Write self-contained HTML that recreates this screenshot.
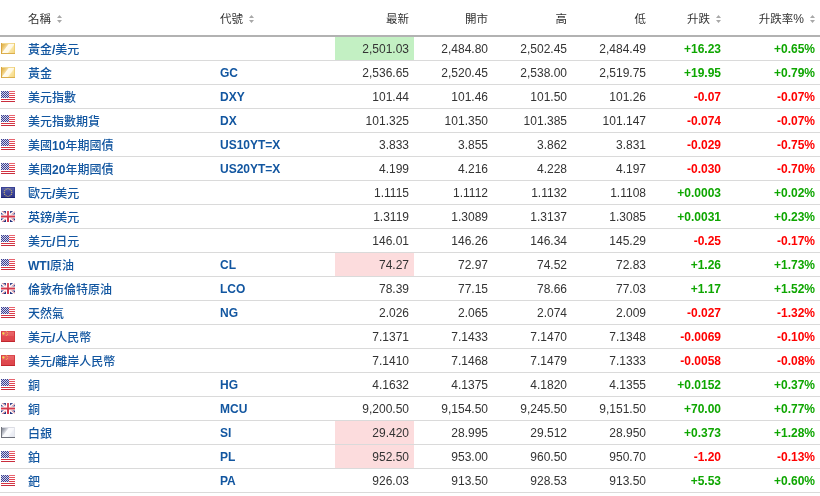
<!DOCTYPE html><html><head><meta charset="utf-8"><style>
*{margin:0;padding:0;box-sizing:border-box}
html,body{width:820px;height:496px;background:#fff;overflow:hidden}
body{font-family:"Liberation Sans","Noto Sans CJK TC",sans-serif;font-size:12px;color:#333}
table{border-collapse:collapse;table-layout:fixed;width:820px}
th{height:36px;font-size:11.5px;border-bottom:2px solid #b2b2b2;font-weight:normal;color:#333;text-align:right;padding:0 5px 0 0;white-space:nowrap;vertical-align:middle}
th.l{text-align:left}
td{height:24px;border-bottom:1px solid #dadada;text-align:right;padding:1px 5px 0 0;white-space:nowrap;vertical-align:middle}
td.f{padding:0 0 0 1px;text-align:left}
td.n{padding-top:0}
td.n{text-align:left;padding-left:8px;font-weight:bold;color:#1256a0}
td.c{text-align:left;padding-left:5px;font-weight:bold;color:#1256a0}
th.n{padding-left:8px}
th.c{padding-left:5px}
td.g{background:#c3f0c3}
td.r{background:#fcdcdd}
.up{color:#0ea600;font-weight:bold}
.dn{color:#ff0000;font-weight:bold}
.fl{display:block}
.ar{display:inline-block;vertical-align:middle;margin-left:6px;position:relative;top:0px}
.cj{font-weight:500}
</style></head><body><table>
<colgroup><col style="width:20px"><col style="width:195px"><col style="width:120px"><col style="width:79px"><col style="width:79px"><col style="width:79px"><col style="width:79px"><col style="width:75px"><col style="width:94px"></colgroup>
<tr><th class="l"></th><th class="l n">名稱<svg class="ar" width="5" height="8" viewBox="0 0 5 8"><path d="M0 3H5L2.5 0Z M0 5H5L2.5 8Z" fill="#a8a8a8"/></svg></th><th class="l c">代號<svg class="ar" width="5" height="8" viewBox="0 0 5 8"><path d="M0 3H5L2.5 0Z M0 5H5L2.5 8Z" fill="#a8a8a8"/></svg></th><th>最新</th><th>開市</th><th>高</th><th>低</th><th>升跌<svg class="ar" width="5" height="8" viewBox="0 0 5 8"><path d="M0 3H5L2.5 0Z M0 5H5L2.5 8Z" fill="#a8a8a8"/></svg></th><th>升跌率<span style="font-size:12px">%</span><svg class="ar" width="5" height="8" viewBox="0 0 5 8"><path d="M0 3H5L2.5 0Z M0 5H5L2.5 8Z" fill="#a8a8a8"/></svg></th></tr>
<tr><td class="f"><svg class="fl" width="14" height="11" viewBox="0 0 14 11"><defs><linearGradient id="gg" gradientUnits="userSpaceOnUse" x1="0" y1="0" x2="14.24" y2="10.68"><stop offset="0" stop-color="#d9a442"/><stop offset="0.2" stop-color="#e7bf62"/><stop offset="0.35" stop-color="#f3d896"/><stop offset="0.4" stop-color="#fffbf0"/><stop offset="0.62" stop-color="#fff8e4"/><stop offset="0.68" stop-color="#fae5a2"/><stop offset="1" stop-color="#f3d378"/></linearGradient></defs><rect width="14" height="11" fill="url(#gg)"/><rect x="1" y="0" width="13" height="1" fill="#f1d890"/><rect x="13" y="0" width="1" height="11" fill="#efcf72"/><rect x="0" y="10" width="14" height="1" fill="#dbae4c"/><rect x="0" y="0" width="1" height="11" fill="#d8a640"/></svg></td><td class="n"><span class="cj">黃金</span>/<span class="cj">美元</span></td><td class="c"></td><td class="g">2,501.03</td><td>2,484.80</td><td>2,502.45</td><td>2,484.49</td><td class="up">+16.23</td><td class="up">+0.65%</td></tr>
<tr><td class="f"><svg class="fl" width="14" height="11" viewBox="0 0 14 11"><defs><linearGradient id="gg" gradientUnits="userSpaceOnUse" x1="0" y1="0" x2="14.24" y2="10.68"><stop offset="0" stop-color="#d9a442"/><stop offset="0.2" stop-color="#e7bf62"/><stop offset="0.35" stop-color="#f3d896"/><stop offset="0.4" stop-color="#fffbf0"/><stop offset="0.62" stop-color="#fff8e4"/><stop offset="0.68" stop-color="#fae5a2"/><stop offset="1" stop-color="#f3d378"/></linearGradient></defs><rect width="14" height="11" fill="url(#gg)"/><rect x="1" y="0" width="13" height="1" fill="#f1d890"/><rect x="13" y="0" width="1" height="11" fill="#efcf72"/><rect x="0" y="10" width="14" height="1" fill="#dbae4c"/><rect x="0" y="0" width="1" height="11" fill="#d8a640"/></svg></td><td class="n"><span class="cj">黃金</span></td><td class="c">GC</td><td>2,536.65</td><td>2,520.45</td><td>2,538.00</td><td>2,519.75</td><td class="up">+19.95</td><td class="up">+0.79%</td></tr>
<tr><td class="f"><svg class="fl" width="14" height="11" viewBox="0 0 14 11"><rect width="14" height="11" fill="#fff"/><rect x="0" y="0" width="14" height="1" fill="#e8646f"/><rect x="0" y="2" width="14" height="1" fill="#e5525e"/><rect x="0" y="4" width="14" height="1" fill="#e14452"/><rect x="0" y="6" width="14" height="1" fill="#dc3a49"/><rect x="0" y="8" width="14" height="1" fill="#d53443"/><rect x="0" y="10" width="14" height="1" fill="#c92d3c"/><rect x="0" y="0" width="8" height="7" fill="#3d418f"/><rect x="1" y="0" width="1" height="1" fill="#cfd0ea"/><rect x="3" y="0" width="1" height="1" fill="#cfd0ea"/><rect x="5" y="0" width="1" height="1" fill="#cfd0ea"/><rect x="7" y="0" width="1" height="1" fill="#cfd0ea"/><rect x="0" y="1" width="1" height="1" fill="#cfd0ea"/><rect x="2" y="1" width="1" height="1" fill="#cfd0ea"/><rect x="4" y="1" width="1" height="1" fill="#cfd0ea"/><rect x="6" y="1" width="1" height="1" fill="#cfd0ea"/><rect x="1" y="2" width="1" height="1" fill="#cfd0ea"/><rect x="3" y="2" width="1" height="1" fill="#cfd0ea"/><rect x="5" y="2" width="1" height="1" fill="#cfd0ea"/><rect x="7" y="2" width="1" height="1" fill="#cfd0ea"/><rect x="0" y="3" width="1" height="1" fill="#cfd0ea"/><rect x="2" y="3" width="1" height="1" fill="#cfd0ea"/><rect x="4" y="3" width="1" height="1" fill="#cfd0ea"/><rect x="6" y="3" width="1" height="1" fill="#cfd0ea"/><rect x="1" y="4" width="1" height="1" fill="#cfd0ea"/><rect x="3" y="4" width="1" height="1" fill="#cfd0ea"/><rect x="5" y="4" width="1" height="1" fill="#cfd0ea"/><rect x="7" y="4" width="1" height="1" fill="#cfd0ea"/><rect x="0" y="5" width="1" height="1" fill="#cfd0ea"/><rect x="2" y="5" width="1" height="1" fill="#cfd0ea"/><rect x="4" y="5" width="1" height="1" fill="#cfd0ea"/><rect x="6" y="5" width="1" height="1" fill="#cfd0ea"/><rect x="1" y="6" width="1" height="1" fill="#cfd0ea"/><rect x="3" y="6" width="1" height="1" fill="#cfd0ea"/><rect x="5" y="6" width="1" height="1" fill="#cfd0ea"/><rect x="7" y="6" width="1" height="1" fill="#cfd0ea"/></svg></td><td class="n"><span class="cj">美元指數</span></td><td class="c">DXY</td><td>101.44</td><td>101.46</td><td>101.50</td><td>101.26</td><td class="dn">-0.07</td><td class="dn">-0.07%</td></tr>
<tr><td class="f"><svg class="fl" width="14" height="11" viewBox="0 0 14 11"><rect width="14" height="11" fill="#fff"/><rect x="0" y="0" width="14" height="1" fill="#e8646f"/><rect x="0" y="2" width="14" height="1" fill="#e5525e"/><rect x="0" y="4" width="14" height="1" fill="#e14452"/><rect x="0" y="6" width="14" height="1" fill="#dc3a49"/><rect x="0" y="8" width="14" height="1" fill="#d53443"/><rect x="0" y="10" width="14" height="1" fill="#c92d3c"/><rect x="0" y="0" width="8" height="7" fill="#3d418f"/><rect x="1" y="0" width="1" height="1" fill="#cfd0ea"/><rect x="3" y="0" width="1" height="1" fill="#cfd0ea"/><rect x="5" y="0" width="1" height="1" fill="#cfd0ea"/><rect x="7" y="0" width="1" height="1" fill="#cfd0ea"/><rect x="0" y="1" width="1" height="1" fill="#cfd0ea"/><rect x="2" y="1" width="1" height="1" fill="#cfd0ea"/><rect x="4" y="1" width="1" height="1" fill="#cfd0ea"/><rect x="6" y="1" width="1" height="1" fill="#cfd0ea"/><rect x="1" y="2" width="1" height="1" fill="#cfd0ea"/><rect x="3" y="2" width="1" height="1" fill="#cfd0ea"/><rect x="5" y="2" width="1" height="1" fill="#cfd0ea"/><rect x="7" y="2" width="1" height="1" fill="#cfd0ea"/><rect x="0" y="3" width="1" height="1" fill="#cfd0ea"/><rect x="2" y="3" width="1" height="1" fill="#cfd0ea"/><rect x="4" y="3" width="1" height="1" fill="#cfd0ea"/><rect x="6" y="3" width="1" height="1" fill="#cfd0ea"/><rect x="1" y="4" width="1" height="1" fill="#cfd0ea"/><rect x="3" y="4" width="1" height="1" fill="#cfd0ea"/><rect x="5" y="4" width="1" height="1" fill="#cfd0ea"/><rect x="7" y="4" width="1" height="1" fill="#cfd0ea"/><rect x="0" y="5" width="1" height="1" fill="#cfd0ea"/><rect x="2" y="5" width="1" height="1" fill="#cfd0ea"/><rect x="4" y="5" width="1" height="1" fill="#cfd0ea"/><rect x="6" y="5" width="1" height="1" fill="#cfd0ea"/><rect x="1" y="6" width="1" height="1" fill="#cfd0ea"/><rect x="3" y="6" width="1" height="1" fill="#cfd0ea"/><rect x="5" y="6" width="1" height="1" fill="#cfd0ea"/><rect x="7" y="6" width="1" height="1" fill="#cfd0ea"/></svg></td><td class="n"><span class="cj">美元指數期貨</span></td><td class="c">DX</td><td>101.325</td><td>101.350</td><td>101.385</td><td>101.147</td><td class="dn">-0.074</td><td class="dn">-0.07%</td></tr>
<tr><td class="f"><svg class="fl" width="14" height="11" viewBox="0 0 14 11"><rect width="14" height="11" fill="#fff"/><rect x="0" y="0" width="14" height="1" fill="#e8646f"/><rect x="0" y="2" width="14" height="1" fill="#e5525e"/><rect x="0" y="4" width="14" height="1" fill="#e14452"/><rect x="0" y="6" width="14" height="1" fill="#dc3a49"/><rect x="0" y="8" width="14" height="1" fill="#d53443"/><rect x="0" y="10" width="14" height="1" fill="#c92d3c"/><rect x="0" y="0" width="8" height="7" fill="#3d418f"/><rect x="1" y="0" width="1" height="1" fill="#cfd0ea"/><rect x="3" y="0" width="1" height="1" fill="#cfd0ea"/><rect x="5" y="0" width="1" height="1" fill="#cfd0ea"/><rect x="7" y="0" width="1" height="1" fill="#cfd0ea"/><rect x="0" y="1" width="1" height="1" fill="#cfd0ea"/><rect x="2" y="1" width="1" height="1" fill="#cfd0ea"/><rect x="4" y="1" width="1" height="1" fill="#cfd0ea"/><rect x="6" y="1" width="1" height="1" fill="#cfd0ea"/><rect x="1" y="2" width="1" height="1" fill="#cfd0ea"/><rect x="3" y="2" width="1" height="1" fill="#cfd0ea"/><rect x="5" y="2" width="1" height="1" fill="#cfd0ea"/><rect x="7" y="2" width="1" height="1" fill="#cfd0ea"/><rect x="0" y="3" width="1" height="1" fill="#cfd0ea"/><rect x="2" y="3" width="1" height="1" fill="#cfd0ea"/><rect x="4" y="3" width="1" height="1" fill="#cfd0ea"/><rect x="6" y="3" width="1" height="1" fill="#cfd0ea"/><rect x="1" y="4" width="1" height="1" fill="#cfd0ea"/><rect x="3" y="4" width="1" height="1" fill="#cfd0ea"/><rect x="5" y="4" width="1" height="1" fill="#cfd0ea"/><rect x="7" y="4" width="1" height="1" fill="#cfd0ea"/><rect x="0" y="5" width="1" height="1" fill="#cfd0ea"/><rect x="2" y="5" width="1" height="1" fill="#cfd0ea"/><rect x="4" y="5" width="1" height="1" fill="#cfd0ea"/><rect x="6" y="5" width="1" height="1" fill="#cfd0ea"/><rect x="1" y="6" width="1" height="1" fill="#cfd0ea"/><rect x="3" y="6" width="1" height="1" fill="#cfd0ea"/><rect x="5" y="6" width="1" height="1" fill="#cfd0ea"/><rect x="7" y="6" width="1" height="1" fill="#cfd0ea"/></svg></td><td class="n"><span class="cj">美國</span>10<span class="cj">年期國債</span></td><td class="c">US10YT=X</td><td>3.833</td><td>3.855</td><td>3.862</td><td>3.831</td><td class="dn">-0.029</td><td class="dn">-0.75%</td></tr>
<tr><td class="f"><svg class="fl" width="14" height="11" viewBox="0 0 14 11"><rect width="14" height="11" fill="#fff"/><rect x="0" y="0" width="14" height="1" fill="#e8646f"/><rect x="0" y="2" width="14" height="1" fill="#e5525e"/><rect x="0" y="4" width="14" height="1" fill="#e14452"/><rect x="0" y="6" width="14" height="1" fill="#dc3a49"/><rect x="0" y="8" width="14" height="1" fill="#d53443"/><rect x="0" y="10" width="14" height="1" fill="#c92d3c"/><rect x="0" y="0" width="8" height="7" fill="#3d418f"/><rect x="1" y="0" width="1" height="1" fill="#cfd0ea"/><rect x="3" y="0" width="1" height="1" fill="#cfd0ea"/><rect x="5" y="0" width="1" height="1" fill="#cfd0ea"/><rect x="7" y="0" width="1" height="1" fill="#cfd0ea"/><rect x="0" y="1" width="1" height="1" fill="#cfd0ea"/><rect x="2" y="1" width="1" height="1" fill="#cfd0ea"/><rect x="4" y="1" width="1" height="1" fill="#cfd0ea"/><rect x="6" y="1" width="1" height="1" fill="#cfd0ea"/><rect x="1" y="2" width="1" height="1" fill="#cfd0ea"/><rect x="3" y="2" width="1" height="1" fill="#cfd0ea"/><rect x="5" y="2" width="1" height="1" fill="#cfd0ea"/><rect x="7" y="2" width="1" height="1" fill="#cfd0ea"/><rect x="0" y="3" width="1" height="1" fill="#cfd0ea"/><rect x="2" y="3" width="1" height="1" fill="#cfd0ea"/><rect x="4" y="3" width="1" height="1" fill="#cfd0ea"/><rect x="6" y="3" width="1" height="1" fill="#cfd0ea"/><rect x="1" y="4" width="1" height="1" fill="#cfd0ea"/><rect x="3" y="4" width="1" height="1" fill="#cfd0ea"/><rect x="5" y="4" width="1" height="1" fill="#cfd0ea"/><rect x="7" y="4" width="1" height="1" fill="#cfd0ea"/><rect x="0" y="5" width="1" height="1" fill="#cfd0ea"/><rect x="2" y="5" width="1" height="1" fill="#cfd0ea"/><rect x="4" y="5" width="1" height="1" fill="#cfd0ea"/><rect x="6" y="5" width="1" height="1" fill="#cfd0ea"/><rect x="1" y="6" width="1" height="1" fill="#cfd0ea"/><rect x="3" y="6" width="1" height="1" fill="#cfd0ea"/><rect x="5" y="6" width="1" height="1" fill="#cfd0ea"/><rect x="7" y="6" width="1" height="1" fill="#cfd0ea"/></svg></td><td class="n"><span class="cj">美國</span>20<span class="cj">年期國債</span></td><td class="c">US20YT=X</td><td>4.199</td><td>4.216</td><td>4.228</td><td>4.197</td><td class="dn">-0.030</td><td class="dn">-0.70%</td></tr>
<tr><td class="f"><svg class="fl" width="14" height="11" viewBox="0 0 14 11"><defs><linearGradient id="ge" x1="0" y1="0" x2="0" y2="1"><stop offset="0" stop-color="#6068ad"/><stop offset="0.5" stop-color="#3d459a"/><stop offset="1" stop-color="#2a3188"/></linearGradient></defs><rect width="14" height="11" fill="url(#ge)"/><rect x="0" y="0" width="1" height="11" fill="#343c8e"/><rect x="13" y="0" width="1" height="11" fill="#343c8e"/><rect x="0" y="0" width="14" height="1" fill="#3a4294"/><rect x="0" y="10" width="14" height="1" fill="#1c2272"/><circle cx="10.80" cy="5.50" r="0.65" fill="#c9b66e"/><circle cx="10.29" cy="7.40" r="0.65" fill="#c9b66e"/><circle cx="8.90" cy="8.79" r="0.65" fill="#c9b66e"/><circle cx="7.00" cy="9.30" r="0.65" fill="#c9b66e"/><circle cx="5.10" cy="8.79" r="0.65" fill="#c9b66e"/><circle cx="3.71" cy="7.40" r="0.65" fill="#c9b66e"/><circle cx="3.20" cy="5.50" r="0.65" fill="#c9b66e"/><circle cx="3.71" cy="3.60" r="0.65" fill="#c9b66e"/><circle cx="5.10" cy="2.21" r="0.65" fill="#c9b66e"/><circle cx="7.00" cy="1.70" r="0.65" fill="#c9b66e"/><circle cx="8.90" cy="2.21" r="0.65" fill="#c9b66e"/><circle cx="10.29" cy="3.60" r="0.65" fill="#c9b66e"/></svg></td><td class="n"><span class="cj">歐元</span>/<span class="cj">美元</span></td><td class="c"></td><td>1.1115</td><td>1.1112</td><td>1.1132</td><td>1.1108</td><td class="up">+0.0003</td><td class="up">+0.02%</td></tr>
<tr><td class="f"><svg class="fl" width="14" height="11" viewBox="0 0 14 11"><rect width="14" height="11" fill="#24337f"/><path d="M0 0L14 11M14 0L0 11" stroke="#fff" stroke-width="2.2"/><path d="M0 0L7 5.5M14 11L7 5.5" stroke="#d8505f" stroke-width="0.7" transform="translate(0.4,-0.4)"/><path d="M14 0L7 5.5M0 11L7 5.5" stroke="#d8505f" stroke-width="0.7" transform="translate(0.4,0.4)"/><rect x="5" y="0" width="4" height="11" fill="#fff"/><rect x="0" y="3.5" width="14" height="4" fill="#fff"/><rect x="6" y="0" width="2" height="11" fill="#d5384b"/><rect x="0" y="4.5" width="14" height="2" fill="#d5384b"/><rect x="0" y="0" width="14" height="5" fill="#fff" opacity="0.12"/></svg></td><td class="n"><span class="cj">英鎊</span>/<span class="cj">美元</span></td><td class="c"></td><td>1.3119</td><td>1.3089</td><td>1.3137</td><td>1.3085</td><td class="up">+0.0031</td><td class="up">+0.23%</td></tr>
<tr><td class="f"><svg class="fl" width="14" height="11" viewBox="0 0 14 11"><rect width="14" height="11" fill="#fff"/><rect x="0" y="0" width="14" height="1" fill="#e8646f"/><rect x="0" y="2" width="14" height="1" fill="#e5525e"/><rect x="0" y="4" width="14" height="1" fill="#e14452"/><rect x="0" y="6" width="14" height="1" fill="#dc3a49"/><rect x="0" y="8" width="14" height="1" fill="#d53443"/><rect x="0" y="10" width="14" height="1" fill="#c92d3c"/><rect x="0" y="0" width="8" height="7" fill="#3d418f"/><rect x="1" y="0" width="1" height="1" fill="#cfd0ea"/><rect x="3" y="0" width="1" height="1" fill="#cfd0ea"/><rect x="5" y="0" width="1" height="1" fill="#cfd0ea"/><rect x="7" y="0" width="1" height="1" fill="#cfd0ea"/><rect x="0" y="1" width="1" height="1" fill="#cfd0ea"/><rect x="2" y="1" width="1" height="1" fill="#cfd0ea"/><rect x="4" y="1" width="1" height="1" fill="#cfd0ea"/><rect x="6" y="1" width="1" height="1" fill="#cfd0ea"/><rect x="1" y="2" width="1" height="1" fill="#cfd0ea"/><rect x="3" y="2" width="1" height="1" fill="#cfd0ea"/><rect x="5" y="2" width="1" height="1" fill="#cfd0ea"/><rect x="7" y="2" width="1" height="1" fill="#cfd0ea"/><rect x="0" y="3" width="1" height="1" fill="#cfd0ea"/><rect x="2" y="3" width="1" height="1" fill="#cfd0ea"/><rect x="4" y="3" width="1" height="1" fill="#cfd0ea"/><rect x="6" y="3" width="1" height="1" fill="#cfd0ea"/><rect x="1" y="4" width="1" height="1" fill="#cfd0ea"/><rect x="3" y="4" width="1" height="1" fill="#cfd0ea"/><rect x="5" y="4" width="1" height="1" fill="#cfd0ea"/><rect x="7" y="4" width="1" height="1" fill="#cfd0ea"/><rect x="0" y="5" width="1" height="1" fill="#cfd0ea"/><rect x="2" y="5" width="1" height="1" fill="#cfd0ea"/><rect x="4" y="5" width="1" height="1" fill="#cfd0ea"/><rect x="6" y="5" width="1" height="1" fill="#cfd0ea"/><rect x="1" y="6" width="1" height="1" fill="#cfd0ea"/><rect x="3" y="6" width="1" height="1" fill="#cfd0ea"/><rect x="5" y="6" width="1" height="1" fill="#cfd0ea"/><rect x="7" y="6" width="1" height="1" fill="#cfd0ea"/></svg></td><td class="n"><span class="cj">美元</span>/<span class="cj">日元</span></td><td class="c"></td><td>146.01</td><td>146.26</td><td>146.34</td><td>145.29</td><td class="dn">-0.25</td><td class="dn">-0.17%</td></tr>
<tr><td class="f"><svg class="fl" width="14" height="11" viewBox="0 0 14 11"><rect width="14" height="11" fill="#fff"/><rect x="0" y="0" width="14" height="1" fill="#e8646f"/><rect x="0" y="2" width="14" height="1" fill="#e5525e"/><rect x="0" y="4" width="14" height="1" fill="#e14452"/><rect x="0" y="6" width="14" height="1" fill="#dc3a49"/><rect x="0" y="8" width="14" height="1" fill="#d53443"/><rect x="0" y="10" width="14" height="1" fill="#c92d3c"/><rect x="0" y="0" width="8" height="7" fill="#3d418f"/><rect x="1" y="0" width="1" height="1" fill="#cfd0ea"/><rect x="3" y="0" width="1" height="1" fill="#cfd0ea"/><rect x="5" y="0" width="1" height="1" fill="#cfd0ea"/><rect x="7" y="0" width="1" height="1" fill="#cfd0ea"/><rect x="0" y="1" width="1" height="1" fill="#cfd0ea"/><rect x="2" y="1" width="1" height="1" fill="#cfd0ea"/><rect x="4" y="1" width="1" height="1" fill="#cfd0ea"/><rect x="6" y="1" width="1" height="1" fill="#cfd0ea"/><rect x="1" y="2" width="1" height="1" fill="#cfd0ea"/><rect x="3" y="2" width="1" height="1" fill="#cfd0ea"/><rect x="5" y="2" width="1" height="1" fill="#cfd0ea"/><rect x="7" y="2" width="1" height="1" fill="#cfd0ea"/><rect x="0" y="3" width="1" height="1" fill="#cfd0ea"/><rect x="2" y="3" width="1" height="1" fill="#cfd0ea"/><rect x="4" y="3" width="1" height="1" fill="#cfd0ea"/><rect x="6" y="3" width="1" height="1" fill="#cfd0ea"/><rect x="1" y="4" width="1" height="1" fill="#cfd0ea"/><rect x="3" y="4" width="1" height="1" fill="#cfd0ea"/><rect x="5" y="4" width="1" height="1" fill="#cfd0ea"/><rect x="7" y="4" width="1" height="1" fill="#cfd0ea"/><rect x="0" y="5" width="1" height="1" fill="#cfd0ea"/><rect x="2" y="5" width="1" height="1" fill="#cfd0ea"/><rect x="4" y="5" width="1" height="1" fill="#cfd0ea"/><rect x="6" y="5" width="1" height="1" fill="#cfd0ea"/><rect x="1" y="6" width="1" height="1" fill="#cfd0ea"/><rect x="3" y="6" width="1" height="1" fill="#cfd0ea"/><rect x="5" y="6" width="1" height="1" fill="#cfd0ea"/><rect x="7" y="6" width="1" height="1" fill="#cfd0ea"/></svg></td><td class="n">WTI<span class="cj">原油</span></td><td class="c">CL</td><td class="r">74.27</td><td>72.97</td><td>74.52</td><td>72.83</td><td class="up">+1.26</td><td class="up">+1.73%</td></tr>
<tr><td class="f"><svg class="fl" width="14" height="11" viewBox="0 0 14 11"><rect width="14" height="11" fill="#24337f"/><path d="M0 0L14 11M14 0L0 11" stroke="#fff" stroke-width="2.2"/><path d="M0 0L7 5.5M14 11L7 5.5" stroke="#d8505f" stroke-width="0.7" transform="translate(0.4,-0.4)"/><path d="M14 0L7 5.5M0 11L7 5.5" stroke="#d8505f" stroke-width="0.7" transform="translate(0.4,0.4)"/><rect x="5" y="0" width="4" height="11" fill="#fff"/><rect x="0" y="3.5" width="14" height="4" fill="#fff"/><rect x="6" y="0" width="2" height="11" fill="#d5384b"/><rect x="0" y="4.5" width="14" height="2" fill="#d5384b"/><rect x="0" y="0" width="14" height="5" fill="#fff" opacity="0.12"/></svg></td><td class="n"><span class="cj">倫敦布倫特原油</span></td><td class="c">LCO</td><td>78.39</td><td>77.15</td><td>78.66</td><td>77.03</td><td class="up">+1.17</td><td class="up">+1.52%</td></tr>
<tr><td class="f"><svg class="fl" width="14" height="11" viewBox="0 0 14 11"><rect width="14" height="11" fill="#fff"/><rect x="0" y="0" width="14" height="1" fill="#e8646f"/><rect x="0" y="2" width="14" height="1" fill="#e5525e"/><rect x="0" y="4" width="14" height="1" fill="#e14452"/><rect x="0" y="6" width="14" height="1" fill="#dc3a49"/><rect x="0" y="8" width="14" height="1" fill="#d53443"/><rect x="0" y="10" width="14" height="1" fill="#c92d3c"/><rect x="0" y="0" width="8" height="7" fill="#3d418f"/><rect x="1" y="0" width="1" height="1" fill="#cfd0ea"/><rect x="3" y="0" width="1" height="1" fill="#cfd0ea"/><rect x="5" y="0" width="1" height="1" fill="#cfd0ea"/><rect x="7" y="0" width="1" height="1" fill="#cfd0ea"/><rect x="0" y="1" width="1" height="1" fill="#cfd0ea"/><rect x="2" y="1" width="1" height="1" fill="#cfd0ea"/><rect x="4" y="1" width="1" height="1" fill="#cfd0ea"/><rect x="6" y="1" width="1" height="1" fill="#cfd0ea"/><rect x="1" y="2" width="1" height="1" fill="#cfd0ea"/><rect x="3" y="2" width="1" height="1" fill="#cfd0ea"/><rect x="5" y="2" width="1" height="1" fill="#cfd0ea"/><rect x="7" y="2" width="1" height="1" fill="#cfd0ea"/><rect x="0" y="3" width="1" height="1" fill="#cfd0ea"/><rect x="2" y="3" width="1" height="1" fill="#cfd0ea"/><rect x="4" y="3" width="1" height="1" fill="#cfd0ea"/><rect x="6" y="3" width="1" height="1" fill="#cfd0ea"/><rect x="1" y="4" width="1" height="1" fill="#cfd0ea"/><rect x="3" y="4" width="1" height="1" fill="#cfd0ea"/><rect x="5" y="4" width="1" height="1" fill="#cfd0ea"/><rect x="7" y="4" width="1" height="1" fill="#cfd0ea"/><rect x="0" y="5" width="1" height="1" fill="#cfd0ea"/><rect x="2" y="5" width="1" height="1" fill="#cfd0ea"/><rect x="4" y="5" width="1" height="1" fill="#cfd0ea"/><rect x="6" y="5" width="1" height="1" fill="#cfd0ea"/><rect x="1" y="6" width="1" height="1" fill="#cfd0ea"/><rect x="3" y="6" width="1" height="1" fill="#cfd0ea"/><rect x="5" y="6" width="1" height="1" fill="#cfd0ea"/><rect x="7" y="6" width="1" height="1" fill="#cfd0ea"/></svg></td><td class="n"><span class="cj">天然氣</span></td><td class="c">NG</td><td>2.026</td><td>2.065</td><td>2.074</td><td>2.009</td><td class="dn">-0.027</td><td class="dn">-1.32%</td></tr>
<tr><td class="f"><svg class="fl" width="14" height="11" viewBox="0 0 14 11"><defs><linearGradient id="gc" x1="0" y1="0" x2="0" y2="1"><stop offset="0" stop-color="#e96a6d"/><stop offset="0.45" stop-color="#e65a5e"/><stop offset="0.5" stop-color="#e04a50"/><stop offset="1" stop-color="#dc444a"/></linearGradient></defs><rect width="14" height="11" fill="url(#gc)"/><rect x="0" y="0" width="1" height="11" fill="#d23b41"/><rect x="13" y="0" width="1" height="11" fill="#d23b41"/><rect x="0" y="0" width="14" height="1" fill="#dc4a50"/><rect x="0" y="10" width="14" height="1" fill="#c0262e"/><circle cx="2.4" cy="2.5" r="1.15" fill="#f6dc4c"/><circle cx="5.3" cy="0.6" r="0.5" fill="#f3c64a"/><circle cx="6.4" cy="1.6" r="0.5" fill="#f3c64a"/><circle cx="6.4" cy="3.4" r="0.5" fill="#f3c64a"/><circle cx="5.3" cy="4.4" r="0.5" fill="#f3c64a"/></svg></td><td class="n"><span class="cj">美元</span>/<span class="cj">人民幣</span></td><td class="c"></td><td>7.1371</td><td>7.1433</td><td>7.1470</td><td>7.1348</td><td class="dn">-0.0069</td><td class="dn">-0.10%</td></tr>
<tr><td class="f"><svg class="fl" width="14" height="11" viewBox="0 0 14 11"><defs><linearGradient id="gc" x1="0" y1="0" x2="0" y2="1"><stop offset="0" stop-color="#e96a6d"/><stop offset="0.45" stop-color="#e65a5e"/><stop offset="0.5" stop-color="#e04a50"/><stop offset="1" stop-color="#dc444a"/></linearGradient></defs><rect width="14" height="11" fill="url(#gc)"/><rect x="0" y="0" width="1" height="11" fill="#d23b41"/><rect x="13" y="0" width="1" height="11" fill="#d23b41"/><rect x="0" y="0" width="14" height="1" fill="#dc4a50"/><rect x="0" y="10" width="14" height="1" fill="#c0262e"/><circle cx="2.4" cy="2.5" r="1.15" fill="#f6dc4c"/><circle cx="5.3" cy="0.6" r="0.5" fill="#f3c64a"/><circle cx="6.4" cy="1.6" r="0.5" fill="#f3c64a"/><circle cx="6.4" cy="3.4" r="0.5" fill="#f3c64a"/><circle cx="5.3" cy="4.4" r="0.5" fill="#f3c64a"/></svg></td><td class="n"><span class="cj">美元</span>/<span class="cj">離岸人民幣</span></td><td class="c"></td><td>7.1410</td><td>7.1468</td><td>7.1479</td><td>7.1333</td><td class="dn">-0.0058</td><td class="dn">-0.08%</td></tr>
<tr><td class="f"><svg class="fl" width="14" height="11" viewBox="0 0 14 11"><rect width="14" height="11" fill="#fff"/><rect x="0" y="0" width="14" height="1" fill="#e8646f"/><rect x="0" y="2" width="14" height="1" fill="#e5525e"/><rect x="0" y="4" width="14" height="1" fill="#e14452"/><rect x="0" y="6" width="14" height="1" fill="#dc3a49"/><rect x="0" y="8" width="14" height="1" fill="#d53443"/><rect x="0" y="10" width="14" height="1" fill="#c92d3c"/><rect x="0" y="0" width="8" height="7" fill="#3d418f"/><rect x="1" y="0" width="1" height="1" fill="#cfd0ea"/><rect x="3" y="0" width="1" height="1" fill="#cfd0ea"/><rect x="5" y="0" width="1" height="1" fill="#cfd0ea"/><rect x="7" y="0" width="1" height="1" fill="#cfd0ea"/><rect x="0" y="1" width="1" height="1" fill="#cfd0ea"/><rect x="2" y="1" width="1" height="1" fill="#cfd0ea"/><rect x="4" y="1" width="1" height="1" fill="#cfd0ea"/><rect x="6" y="1" width="1" height="1" fill="#cfd0ea"/><rect x="1" y="2" width="1" height="1" fill="#cfd0ea"/><rect x="3" y="2" width="1" height="1" fill="#cfd0ea"/><rect x="5" y="2" width="1" height="1" fill="#cfd0ea"/><rect x="7" y="2" width="1" height="1" fill="#cfd0ea"/><rect x="0" y="3" width="1" height="1" fill="#cfd0ea"/><rect x="2" y="3" width="1" height="1" fill="#cfd0ea"/><rect x="4" y="3" width="1" height="1" fill="#cfd0ea"/><rect x="6" y="3" width="1" height="1" fill="#cfd0ea"/><rect x="1" y="4" width="1" height="1" fill="#cfd0ea"/><rect x="3" y="4" width="1" height="1" fill="#cfd0ea"/><rect x="5" y="4" width="1" height="1" fill="#cfd0ea"/><rect x="7" y="4" width="1" height="1" fill="#cfd0ea"/><rect x="0" y="5" width="1" height="1" fill="#cfd0ea"/><rect x="2" y="5" width="1" height="1" fill="#cfd0ea"/><rect x="4" y="5" width="1" height="1" fill="#cfd0ea"/><rect x="6" y="5" width="1" height="1" fill="#cfd0ea"/><rect x="1" y="6" width="1" height="1" fill="#cfd0ea"/><rect x="3" y="6" width="1" height="1" fill="#cfd0ea"/><rect x="5" y="6" width="1" height="1" fill="#cfd0ea"/><rect x="7" y="6" width="1" height="1" fill="#cfd0ea"/></svg></td><td class="n"><span class="cj">銅</span></td><td class="c">HG</td><td>4.1632</td><td>4.1375</td><td>4.1820</td><td>4.1355</td><td class="up">+0.0152</td><td class="up">+0.37%</td></tr>
<tr><td class="f"><svg class="fl" width="14" height="11" viewBox="0 0 14 11"><rect width="14" height="11" fill="#24337f"/><path d="M0 0L14 11M14 0L0 11" stroke="#fff" stroke-width="2.2"/><path d="M0 0L7 5.5M14 11L7 5.5" stroke="#d8505f" stroke-width="0.7" transform="translate(0.4,-0.4)"/><path d="M14 0L7 5.5M0 11L7 5.5" stroke="#d8505f" stroke-width="0.7" transform="translate(0.4,0.4)"/><rect x="5" y="0" width="4" height="11" fill="#fff"/><rect x="0" y="3.5" width="14" height="4" fill="#fff"/><rect x="6" y="0" width="2" height="11" fill="#d5384b"/><rect x="0" y="4.5" width="14" height="2" fill="#d5384b"/><rect x="0" y="0" width="14" height="5" fill="#fff" opacity="0.12"/></svg></td><td class="n"><span class="cj">銅</span></td><td class="c">MCU</td><td>9,200.50</td><td>9,154.50</td><td>9,245.50</td><td>9,151.50</td><td class="up">+70.00</td><td class="up">+0.77%</td></tr>
<tr><td class="f"><svg class="fl" width="14" height="11" viewBox="0 0 14 11"><defs><linearGradient id="gs" gradientUnits="userSpaceOnUse" x1="0" y1="0" x2="14.24" y2="10.68"><stop offset="0" stop-color="#6f737e"/><stop offset="0.2" stop-color="#a2a6b0"/><stop offset="0.35" stop-color="#d6d8df"/><stop offset="0.4" stop-color="#fbfbfd"/><stop offset="0.62" stop-color="#f8f9fc"/><stop offset="0.68" stop-color="#eef0f6"/><stop offset="1" stop-color="#e2e5ee"/></linearGradient></defs><rect width="14" height="11" fill="url(#gs)"/><rect x="1" y="0" width="13" height="1" fill="#dcdde4"/><rect x="13" y="0" width="1" height="11" fill="#e2e4eb"/><rect x="0" y="10" width="14" height="1" fill="#6c6f78"/><rect x="0" y="0" width="1" height="11" fill="#70737c"/></svg></td><td class="n"><span class="cj">白銀</span></td><td class="c">SI</td><td class="r">29.420</td><td>28.995</td><td>29.512</td><td>28.950</td><td class="up">+0.373</td><td class="up">+1.28%</td></tr>
<tr><td class="f"><svg class="fl" width="14" height="11" viewBox="0 0 14 11"><rect width="14" height="11" fill="#fff"/><rect x="0" y="0" width="14" height="1" fill="#e8646f"/><rect x="0" y="2" width="14" height="1" fill="#e5525e"/><rect x="0" y="4" width="14" height="1" fill="#e14452"/><rect x="0" y="6" width="14" height="1" fill="#dc3a49"/><rect x="0" y="8" width="14" height="1" fill="#d53443"/><rect x="0" y="10" width="14" height="1" fill="#c92d3c"/><rect x="0" y="0" width="8" height="7" fill="#3d418f"/><rect x="1" y="0" width="1" height="1" fill="#cfd0ea"/><rect x="3" y="0" width="1" height="1" fill="#cfd0ea"/><rect x="5" y="0" width="1" height="1" fill="#cfd0ea"/><rect x="7" y="0" width="1" height="1" fill="#cfd0ea"/><rect x="0" y="1" width="1" height="1" fill="#cfd0ea"/><rect x="2" y="1" width="1" height="1" fill="#cfd0ea"/><rect x="4" y="1" width="1" height="1" fill="#cfd0ea"/><rect x="6" y="1" width="1" height="1" fill="#cfd0ea"/><rect x="1" y="2" width="1" height="1" fill="#cfd0ea"/><rect x="3" y="2" width="1" height="1" fill="#cfd0ea"/><rect x="5" y="2" width="1" height="1" fill="#cfd0ea"/><rect x="7" y="2" width="1" height="1" fill="#cfd0ea"/><rect x="0" y="3" width="1" height="1" fill="#cfd0ea"/><rect x="2" y="3" width="1" height="1" fill="#cfd0ea"/><rect x="4" y="3" width="1" height="1" fill="#cfd0ea"/><rect x="6" y="3" width="1" height="1" fill="#cfd0ea"/><rect x="1" y="4" width="1" height="1" fill="#cfd0ea"/><rect x="3" y="4" width="1" height="1" fill="#cfd0ea"/><rect x="5" y="4" width="1" height="1" fill="#cfd0ea"/><rect x="7" y="4" width="1" height="1" fill="#cfd0ea"/><rect x="0" y="5" width="1" height="1" fill="#cfd0ea"/><rect x="2" y="5" width="1" height="1" fill="#cfd0ea"/><rect x="4" y="5" width="1" height="1" fill="#cfd0ea"/><rect x="6" y="5" width="1" height="1" fill="#cfd0ea"/><rect x="1" y="6" width="1" height="1" fill="#cfd0ea"/><rect x="3" y="6" width="1" height="1" fill="#cfd0ea"/><rect x="5" y="6" width="1" height="1" fill="#cfd0ea"/><rect x="7" y="6" width="1" height="1" fill="#cfd0ea"/></svg></td><td class="n"><span class="cj">鉑</span></td><td class="c">PL</td><td class="r">952.50</td><td>953.00</td><td>960.50</td><td>950.70</td><td class="dn">-1.20</td><td class="dn">-0.13%</td></tr>
<tr><td class="f"><svg class="fl" width="14" height="11" viewBox="0 0 14 11"><rect width="14" height="11" fill="#fff"/><rect x="0" y="0" width="14" height="1" fill="#e8646f"/><rect x="0" y="2" width="14" height="1" fill="#e5525e"/><rect x="0" y="4" width="14" height="1" fill="#e14452"/><rect x="0" y="6" width="14" height="1" fill="#dc3a49"/><rect x="0" y="8" width="14" height="1" fill="#d53443"/><rect x="0" y="10" width="14" height="1" fill="#c92d3c"/><rect x="0" y="0" width="8" height="7" fill="#3d418f"/><rect x="1" y="0" width="1" height="1" fill="#cfd0ea"/><rect x="3" y="0" width="1" height="1" fill="#cfd0ea"/><rect x="5" y="0" width="1" height="1" fill="#cfd0ea"/><rect x="7" y="0" width="1" height="1" fill="#cfd0ea"/><rect x="0" y="1" width="1" height="1" fill="#cfd0ea"/><rect x="2" y="1" width="1" height="1" fill="#cfd0ea"/><rect x="4" y="1" width="1" height="1" fill="#cfd0ea"/><rect x="6" y="1" width="1" height="1" fill="#cfd0ea"/><rect x="1" y="2" width="1" height="1" fill="#cfd0ea"/><rect x="3" y="2" width="1" height="1" fill="#cfd0ea"/><rect x="5" y="2" width="1" height="1" fill="#cfd0ea"/><rect x="7" y="2" width="1" height="1" fill="#cfd0ea"/><rect x="0" y="3" width="1" height="1" fill="#cfd0ea"/><rect x="2" y="3" width="1" height="1" fill="#cfd0ea"/><rect x="4" y="3" width="1" height="1" fill="#cfd0ea"/><rect x="6" y="3" width="1" height="1" fill="#cfd0ea"/><rect x="1" y="4" width="1" height="1" fill="#cfd0ea"/><rect x="3" y="4" width="1" height="1" fill="#cfd0ea"/><rect x="5" y="4" width="1" height="1" fill="#cfd0ea"/><rect x="7" y="4" width="1" height="1" fill="#cfd0ea"/><rect x="0" y="5" width="1" height="1" fill="#cfd0ea"/><rect x="2" y="5" width="1" height="1" fill="#cfd0ea"/><rect x="4" y="5" width="1" height="1" fill="#cfd0ea"/><rect x="6" y="5" width="1" height="1" fill="#cfd0ea"/><rect x="1" y="6" width="1" height="1" fill="#cfd0ea"/><rect x="3" y="6" width="1" height="1" fill="#cfd0ea"/><rect x="5" y="6" width="1" height="1" fill="#cfd0ea"/><rect x="7" y="6" width="1" height="1" fill="#cfd0ea"/></svg></td><td class="n"><span class="cj">鈀</span></td><td class="c">PA</td><td>926.03</td><td>913.50</td><td>928.53</td><td>913.50</td><td class="up">+5.53</td><td class="up">+0.60%</td></tr>
</table></body></html>
